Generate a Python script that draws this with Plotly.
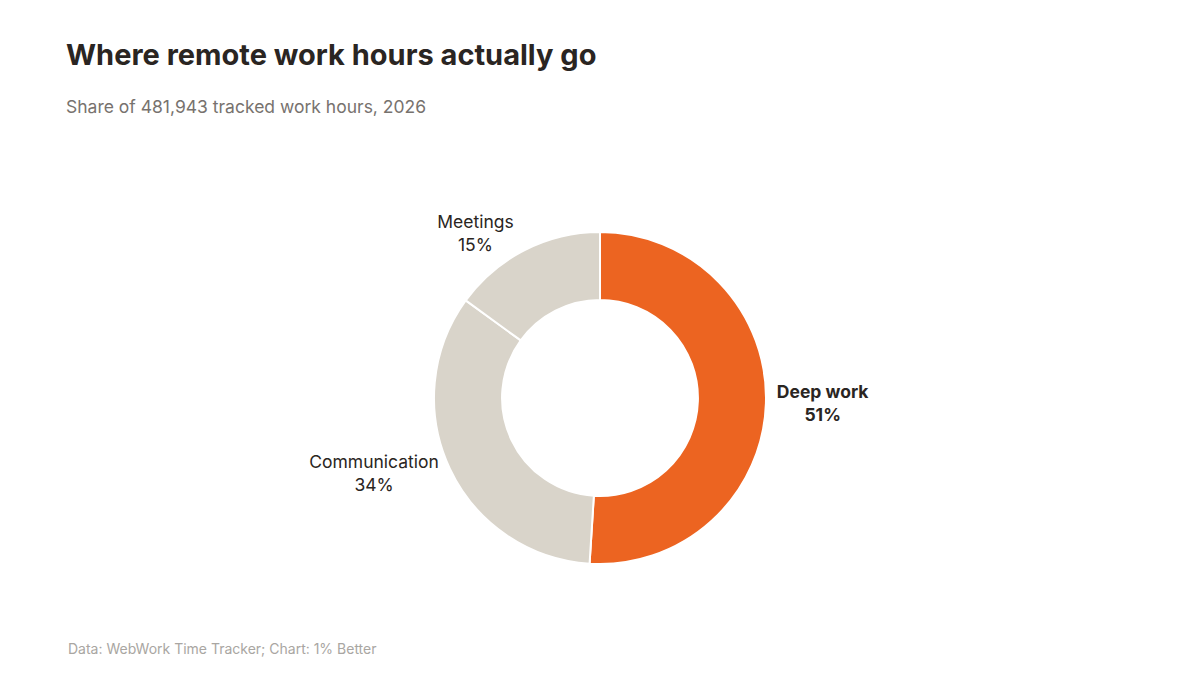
import plotly.graph_objects as go

# share of tracked hours, 2026
categories = ["Deep work", "Communication", "Meetings"]
shares = [51, 34, 15]
total_hours = 481943

orange = "#EC6421"
beige = "#D9D4CA"
ink = "#2A2522"

# only the deep work slice gets the accent colour + bold label
colors = [orange, beige, beige]
templates = ["<b>%{label}<br>%{percent:.0%}</b>",
             "%{label}<br>%{percent:.0%}",
             "%{label}<br>%{percent:.0%}"]

# page has an 8px body margin, so everything is nudged up/left by 8
fig = go.Figure(
    go.Pie(
        labels=categories,
        values=shares,
        hole=0.59,
        sort=False,
        direction="clockwise",
        rotation=0,
        marker=dict(colors=colors, line=dict(color="white", width=2)),
        texttemplate=templates,
        textposition="outside",
        outsidetextfont=dict(size=17.5, color=ink, family="Inter"),
        hoverinfo="label+percent",
        showlegend=False,
        automargin=False,
        domain=dict(x=[0, 1184 / 1200], y=[119 / 675, 451 / 675]),
    )
)

fig.update_layout(
    title=dict(
        text="<b>Where remote work hours actually go</b>",
        x=58 / 1200, xref="container", xanchor="left",
        y=1 - 37 / 675, yref="container", yanchor="top",
        font=dict(size=29, color=ink, family="Inter"),
        subtitle=dict(
            text="Share of " + f"{total_hours:,}" + " tracked work hours, 2026",
            font=dict(size=17.5, color="#77726E", family="Inter"),
        ),
    ),
)

fig.add_annotation(
    text="Data: WebWork Time Tracker; Chart: 1% Better",
    x=58 / 1200, y=1 - 630 / 675, xref="paper", yref="paper",
    xanchor="left", yanchor="top", showarrow=False,
    font=dict(size=14, color="#A9A6A2", family="Inter"),
)

fig.update_layout(
    width=1200, height=675,
    margin=dict(l=0, r=0, t=0, b=0, autoexpand=False),
    paper_bgcolor="white",
    plot_bgcolor="white",
    font=dict(family="Inter", color=ink),
)

fig.write_html("out.html")
